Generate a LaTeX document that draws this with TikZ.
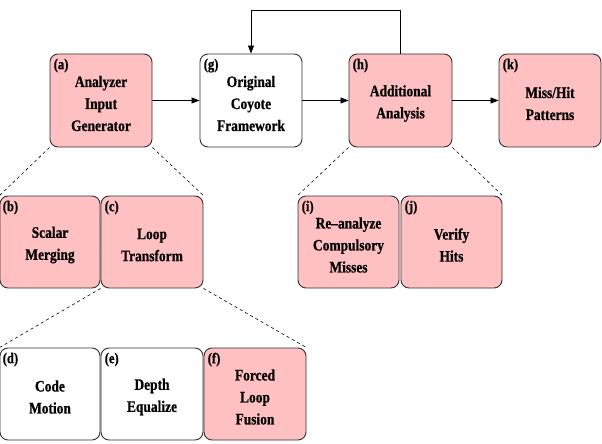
\documentclass[tikz,border=0pt]{standalone}
\usepackage{fontspec}
\setmainfont{Liberation Serif}
\newfontfamily\boxfont{Liberation Serif}[FakeStretch=0.84, Ligatures=TeX, BoldFeatures={FakeBold=0.6}]
\usetikzlibrary{arrows.meta, positioning}
\definecolor{passpink}{RGB}{255,192,194}
\definecolor{boxedge}{RGB}{50,50,50}

\begin{document}
\begin{tikzpicture}[
    x=1pt, y=-1pt,
    box/.style={rectangle, draw=boxedge, line width=0.9pt, rounded corners=8pt,
        minimum width=102pt, minimum height=93pt, inner sep=0pt},
    hot/.style={box, fill=passpink},
    cold/.style={box, fill=white},
    txt/.style={align=center, inner sep=0pt, font=\boxfont\bfseries\fontsize{16}{22}\selectfont},
    tag/.style={font=\boxfont\bfseries\fontsize{15}{16}\selectfont, anchor=north west, inner sep=0pt},
    arr/.style={-{Triangle[length=8pt,width=6pt]}, line width=0.8pt},
    zoomline/.style={line width=0.6pt, dash pattern=on 3pt off 3pt}
]
\useasboundingbox (0,0) rectangle (602,444);

% Top row
\node[hot] (ana) at (101,100.5) {};
\node[cold] (orig) at (251,100.5) {};
\node[hot, minimum width=103pt] (add) at (400.5,100.5) {};
\node[hot] (miss) at (550,100.5) {};

% Second row
\node[hot, minimum width=100pt, minimum height=92pt] (scalar) at (50,242) {};
\node[hot, minimum height=92pt] (loop) at (152,242) {};
\node[hot, minimum width=101pt, minimum height=92pt] (reana) at (348.5,242) {};
\node[hot, minimum width=101pt, minimum height=92pt] (verify) at (451.5,242) {};

% Third row
\node[cold, minimum width=100pt, minimum height=92pt] (code) at (50,394) {};
\node[cold, minimum height=92pt] (depth) at (152,394) {};
\node[hot, minimum height=92pt] (fusion) at (255,394) {};

% Texts
\node[txt] (anatxt) at ([yshift=-3pt]ana.center) {Analyzer\\Input\\Generator};
\node[txt] (origtxt) at ([yshift=-3pt]orig.center) {Original\\Coyote\\Framework};
\node[txt] (addtxt) at ([yshift=-3pt]add.center) {Additional\\Analysis};
\node[txt] (misstxt) at ([yshift=-3pt]miss.center) {Miss/Hit\\Patterns};
\node[txt] (scalartxt) at ([yshift=-3pt]scalar.center) {Scalar\\Merging};
\node[txt] (looptxt) at ([yshift=-3pt]loop.center) {Loop\\Transform};
\node[txt] (reanatxt) at ([yshift=-3pt]reana.center) {Re--analyze\\Compulsory\\Misses};
\node[txt] (verifytxt) at ([yshift=-3pt]verify.center) {Verify\\Hits};
\node[txt] (codetxt) at ([yshift=-3pt]code.center) {Code\\Motion};
\node[txt] (depthtxt) at ([yshift=-3pt]depth.center) {Depth\\Equalize};
\node[txt] (fusiontxt) at ([yshift=-3pt]fusion.center) {Forced\\Loop\\Fusion};

% Tags
\node[tag] (taga) at ([xshift=4pt,yshift=-5pt]ana.north west) {(a)};
\node[tag] (tagg) at ([xshift=4pt,yshift=-5pt]orig.north west) {(g)};
\node[tag] (tagh) at ([xshift=4pt,yshift=-5pt]add.north west) {(h)};
\node[tag] (tagk) at ([xshift=4pt,yshift=-5pt]miss.north west) {(k)};
\node[tag] (tagb) at ([xshift=3pt,yshift=-5pt]scalar.north west) {(b)};
\node[tag] (tagc) at ([xshift=4pt,yshift=-5pt]loop.north west) {(c)};
\node[tag] (tagi) at ([xshift=4pt,yshift=-5pt]reana.north west) {(i)};
\node[tag] (tagj) at ([xshift=4pt,yshift=-5pt]verify.north west) {(j)};
\node[tag] (tagd) at ([xshift=3pt,yshift=-5pt]code.north west) {(d)};
\node[tag] (tage) at ([xshift=4pt,yshift=-5pt]depth.north west) {(e)};
\node[tag] (tagf) at ([xshift=4pt,yshift=-5pt]fusion.north west) {(f)};

% Flow
\draw[arr] (ana) -- (orig);
\draw[arr] (orig) -- (add);
\draw[arr] (add) -- (miss);
\coordinate (loopup) at (400.5,10);
\draw[arr] (add.north) -- (loopup) -| (orig.north);

% Zoom-in lines
\draw[zoomline] (ana.south west) -- (scalar.north west);
\draw[zoomline] (ana.south east) -- (loop.north east);
\draw[zoomline] (loop.south west) -- (code.north west);
\draw[zoomline] (loop.south east) -- (fusion.north east);
\draw[zoomline] (add.south west) -- (reana.north west);
\draw[zoomline] (add.south east) -- (verify.north east);
\end{tikzpicture}
\end{document}
